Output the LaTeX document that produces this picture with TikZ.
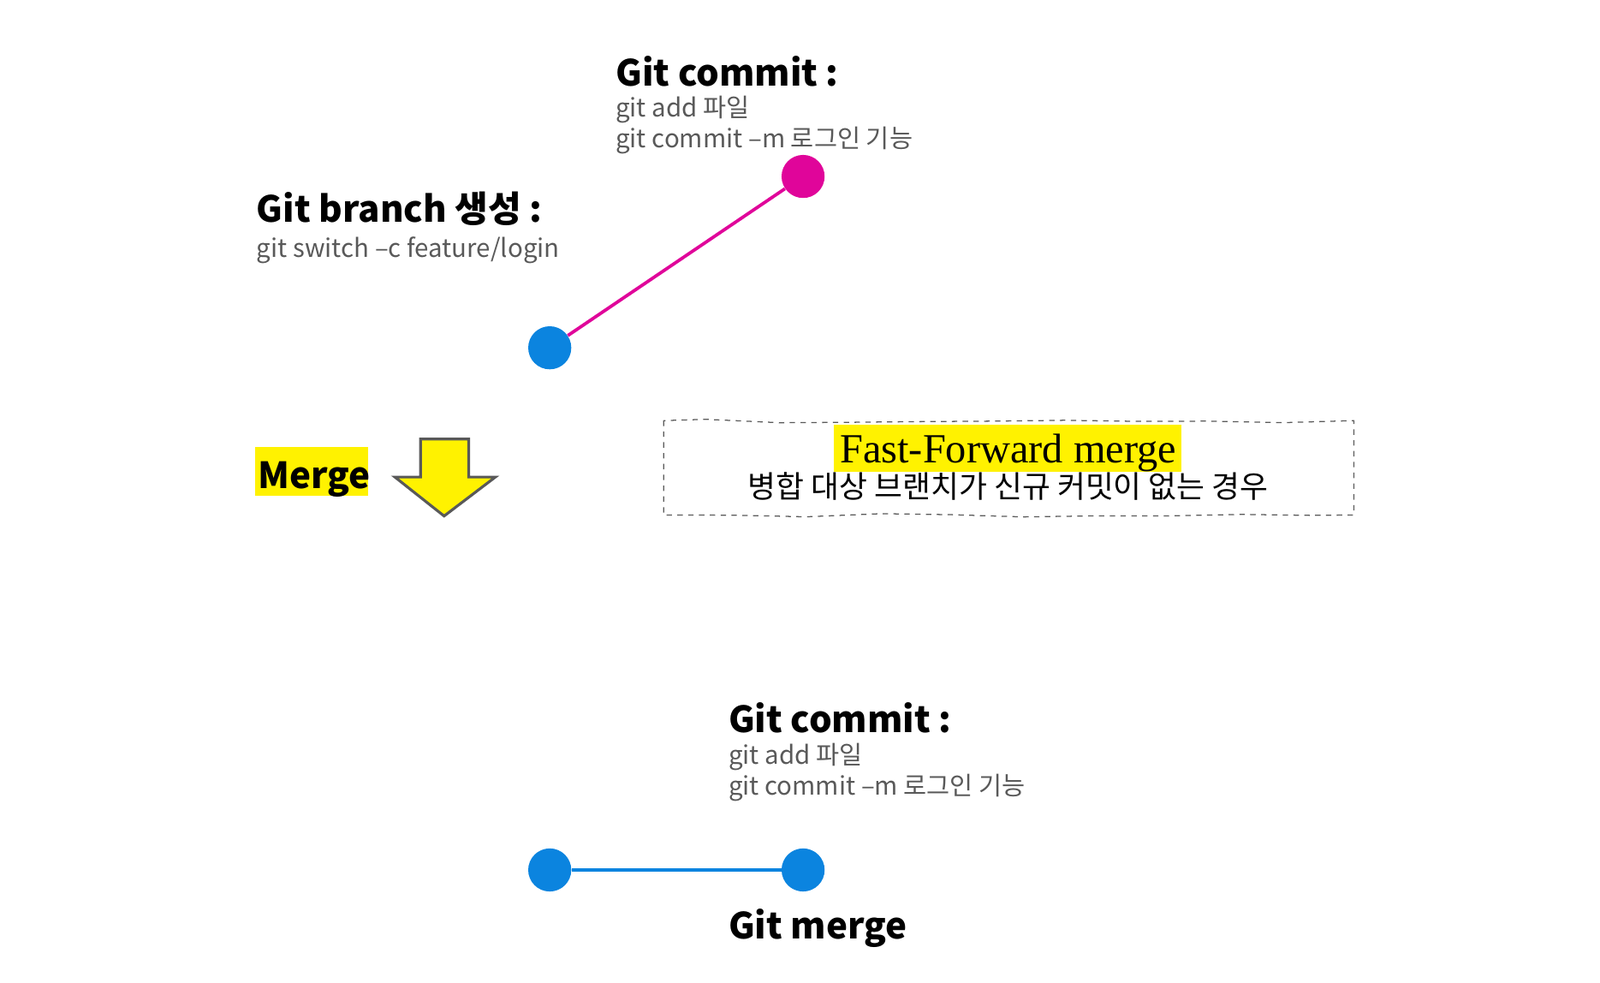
\documentclass[tikz,border=0pt]{standalone}
\usepackage{fontspec}
\setmainfont{Noto Sans CJK KR}
\newfontfamily\krsans{Noto Sans CJK KR}
\newfontfamily\krserif{Noto Sans CJK KR}
\newfontfamily\latserif{Liberation Serif}
\usetikzlibrary{decorations.pathmorphing}
\definecolor{gblue}{HTML}{0B84DF}
\definecolor{gpink}{HTML}{E0059A}
\definecolor{ggray}{HTML}{595959}
\begin{document}
\begin{tikzpicture}[x=0.02cm,y=-0.02cm,
  dot/.style={circle,inner sep=0pt,minimum size=0.84cm},
  title/.style={anchor=base west,inner sep=0pt,font=\krsans\bfseries\fontsize{20}{24}\selectfont},
  sub/.style={anchor=base west,inner sep=0pt,align=left,text=ggray,font=\krsans\fontsize{14}{17}\selectfont}]
\useasboundingbox (0,0) rectangle (1560,958);
\node[dot,fill=gblue] (b1) at (536,339) {};
\node[dot,fill=gpink] (p1) at (783,172) {};
\draw[gpink,line width=1.8pt] (b1) -- (p1);
\node[title] (t1) at (600,84) {Git commit :};
\node[sub] (s1) at (600,114) {git add 파일};
\node[sub] (s1b) at (600,144) {git commit –m 로그인 기능};
\node[title] (t2) at (250,217) {Git branch 생성 :};
\node[sub] (s2) at (250,251) {git switch –c feature/login};
\fill[yellow] (249,436) rectangle (359,483);
\node[title] (m) at (251,476) {Merge};
\draw[ggray,line width=1.5pt,fill=yellow] (410,428) -- (457,428) -- (457,465) -- (483,465) -- (433,503) -- (385,465) -- (410,465) -- cycle;
\draw[ggray,dashed,line width=0.6pt,decorate,decoration={random steps,segment length=40,amplitude=1.2}] (647,410) rectangle (1320,502);
\fill[yellow] (813,414) rectangle (1152,460);
\node[anchor=base,inner sep=0pt,font=\latserif\fontsize{23}{27}\selectfont] (ff) at (983,451) {Fast-Forward merge};
\node[anchor=base,inner sep=0pt,font=\krsans\fontsize{17}{20}\selectfont] (ffk) at (983,485) {병합 대상 브랜치가 신규 커밋이 없는 경우};
\node[title] (t3) at (710,714) {Git commit :};
\node[sub] (s3) at (710,745) {git add 파일};
\node[sub] (s3b) at (710,775) {git commit –m 로그인 기능};
\node[dot,fill=gblue] (b2) at (536,848) {};
\node[dot,fill=gblue] (b3) at (783,848) {};
\draw[gblue,line width=1.8pt] (b2) -- (b3);
\node[title] (t4) at (710,915) {Git merge};
\end{tikzpicture}
\end{document}
